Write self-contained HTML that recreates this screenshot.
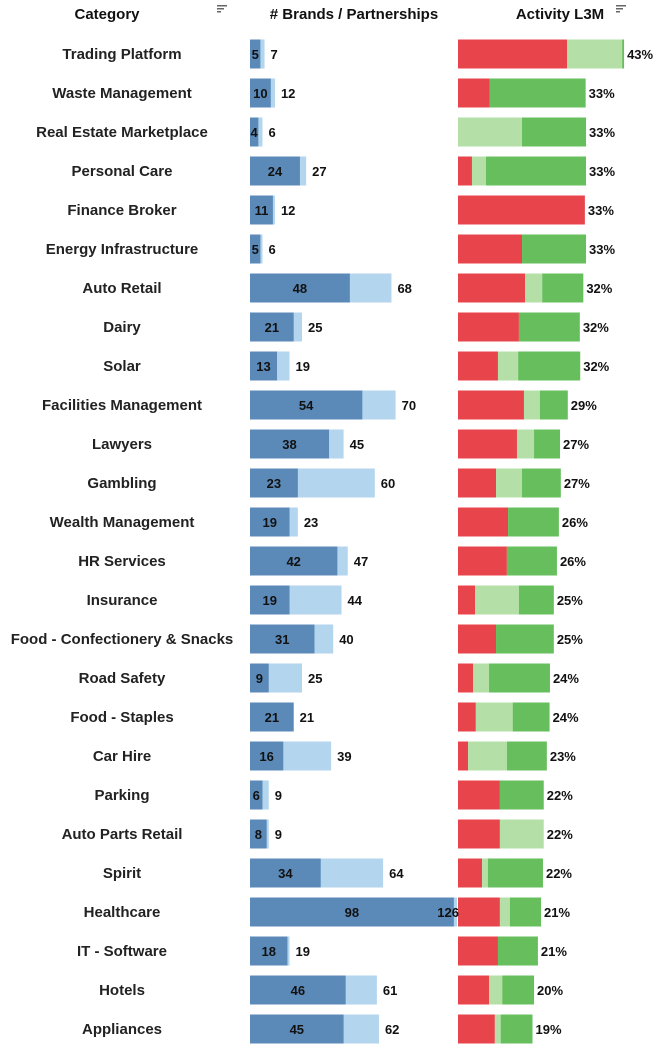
<!DOCTYPE html>
<html><head><meta charset="utf-8">
<style>
body{margin:0;background:#fff;width:658px;height:1048px;overflow:hidden;font-family:"Liberation Sans",sans-serif}
svg text{font-family:"Liberation Sans",sans-serif}
</style></head>
<body>
<svg id="c" width="658" height="1048"></svg>
<script>
const categories=["Trading Platform","Waste Management","Real Estate Marketplace","Personal Care","Finance Broker","Energy Infrastructure","Auto Retail","Dairy","Solar","Facilities Management","Lawyers","Gambling","Wealth Management","HR Services","Insurance","Food - Confectionery & Snacks","Road Safety","Food - Staples","Car Hire","Parking","Auto Parts Retail","Spirit","Healthcare","IT - Software","Hotels","Appliances"];
const brands=[5,10,4,24,11,5,48,21,13,54,38,23,19,42,19,31,9,21,16,6,8,34,98,18,46,45];
const partnerships=[7,12,6,27,12,6,68,25,19,70,45,60,23,47,44,40,25,21,39,9,9,64,126,19,61,62];
const actRed=[28.1,8.2,0,3.6,32.7,16.5,17.3,15.7,10.3,17,15.2,9.8,12.9,12.6,4.4,9.8,3.9,4.6,2.6,10.8,10.8,6.2,10.8,10.3,8,9.5];
const actLight=[14.2,0,16.5,3.6,0,0,4.4,0,5.2,4.1,4.4,6.7,0,0,11.3,0,4.1,9.5,10,0,11.3,1.5,2.6,0,3.4,1.5];
const actGreen=[0.5,24.7,16.5,25.8,0,16.5,10.6,15.7,16,7.2,6.7,10,13.1,12.9,9,14.9,15.7,9.5,10.3,11.3,0,14.2,8,10.3,8.2,8.2];
const actLabels=["43%","33%","33%","33%","33%","33%","32%","32%","32%","29%","27%","27%","26%","26%","25%","25%","24%","24%","23%","22%","22%","22%","21%","21%","20%","19%"];

const svg=document.getElementById('c');
const NS="http://www.w3.org/2000/svg";
const bx=v=>250+v*2.08, BMAX=457;
const ax=v=>458+v*3.88;
const rowY=i=>54+i*39;
function el(t,a,txt){const e=document.createElementNS(NS,t);for(const k in a)e.setAttribute(k,a[k]);if(txt!=null)e.textContent=txt;svg.appendChild(e);return e;}

let h;
h=el('text',{x:107,y:19,'text-anchor':'middle','font-size':15,fill:'#111','font-weight':'bold'},'Category');


h=el('text',{x:354,y:19,'text-anchor':'middle','font-size':15,fill:'#111','font-weight':'bold'},'# Brands / Partnerships');


h=el('text',{x:560,y:19,'text-anchor':'middle','font-size':15,fill:'#111','font-weight':'bold'},'Activity L3M');


[[217,'category-sort-icon'],[616,'activity-sort-icon']].forEach(([x,n])=>{
  const g=el('g',{});
  
  
  [10,7,4].forEach((w,k)=>{const r=document.createElementNS(NS,'rect');r.setAttribute('x',x);r.setAttribute('y',5+k*3);r.setAttribute('width',w);r.setAttribute('height',1.5);r.setAttribute('fill','#666');g.appendChild(r);});
});

const late=[];
categories.forEach((c,i)=>{
  const y=rowY(i);
  let t=el('text',{x:122,y:y+5,'text-anchor':'middle','font-size':15,fill:'#222','font-weight':'bold'},c);
  
  
  const pe=Math.min(bx(partnerships[i]),BMAX), be=Math.min(bx(brands[i]),BMAX);
  let r=el('rect',{x:250,y:y-14.5,width:pe-250,height:29,fill:'#b3d6ee'});
  
  
  r=el('rect',{x:250,y:y-14.5,width:be-250,height:29,fill:'#5b8ab8'});
  
  
  t=el('text',{x:(250+be)/2,y:y+5,'text-anchor':'middle','font-size':13,fill:'#111','font-weight':'bold'},brands[i]);
  
  
  let x0=0;
  [[actRed[i],'#e8444b','activity-red'],[actLight[i],'#b4e0a8','activity-light-green'],[actGreen[i],'#66bf5c','activity-green']].forEach(([v,col,n])=>{
    if(v>0){r=el('rect',{x:ax(x0),y:y-14.5,width:ax(x0+v)-ax(x0),height:29,fill:col});
    
    }
    x0+=v;
  });
  t=el('text',{x:ax(x0)+3,y:y+5,'font-size':13,fill:'#111','font-weight':'bold'},actLabels[i]);
  
  
  const clipped=pe>=BMAX;
  t=el('text',{x:clipped?BMAX+2:pe+6,y:y+5,'font-size':13,fill:'#111','font-weight':'bold','text-anchor':clipped?'end':'start'},partnerships[i]);
  
  
});
</script>
</body></html>
